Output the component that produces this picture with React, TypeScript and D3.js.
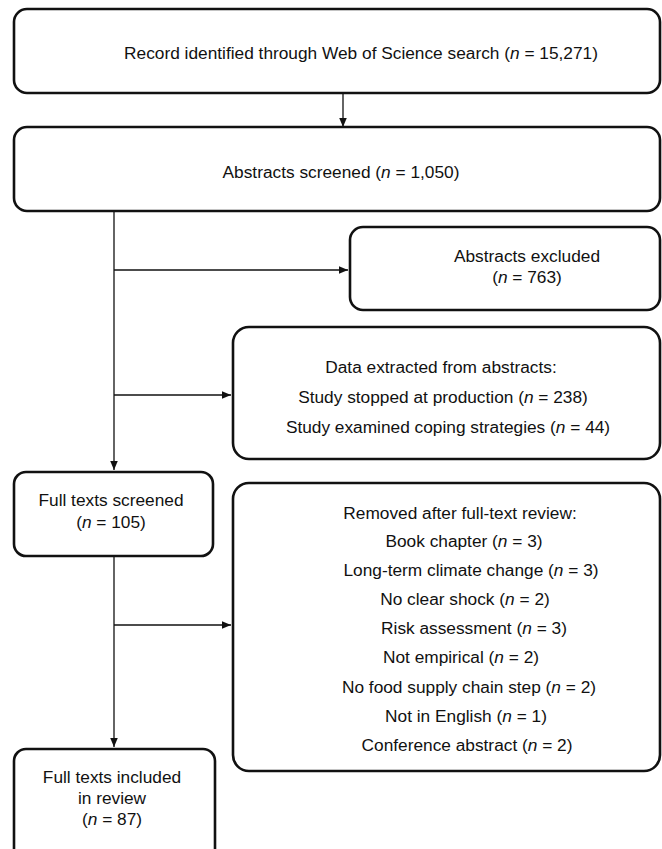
import { useEffect, useRef } from 'react'
import * as d3 from 'd3'

// flow stages (main column)
const stageLabels = [
  'Record identified through Web of Science search',
  'Abstracts screened',
  'Full texts screened',
  'Full texts included in review',
]
const stageCounts = [15271, 1050, 105, 87]

const excludedLabel = 'Abstracts excluded'
const excludedCount = 763

const extractedTitle = 'Data extracted from abstracts:'
const extractedLabels = ['Study stopped at production', 'Study examined coping strategies']
const extractedCounts = [238, 44]

const removedTitle = 'Removed after full-text review:'
const removedReasons = [
  'Book chapter',
  'Long-term climate change',
  'No clear shock',
  'Risk assessment',
  'Not empirical',
  'No food supply chain step',
  'Not in English',
  'Conference abstract',
]
const removedCounts = [3, 3, 2, 3, 2, 2, 1, 2]

type Seg = { t: string; i?: boolean }
type Line = Seg[]

const fmt = d3.format(',')
const withN = (label: string, n: number): Line => [
  { t: label ? `${label} (` : '(' },
  { t: 'n', i: true },
  { t: ` = ${fmt(n)})` },
]

export default function App() {
  const svgRef = useRef<SVGSVGElement>(null)
  const width = 662
  const height = 849

  useEffect(() => {
    if (!svgRef.current) return
    const svg = d3.select(svgRef.current)
    svg.selectAll('*').remove()

    const defs = svg.append('defs')
    defs.append('marker')
      .attr('id', 'arrow')
      .attr('viewBox', '0 0 10 10')
      .attr('refX', 10)
      .attr('refY', 5)
      .attr('markerUnits', 'userSpaceOnUse')
      .attr('markerWidth', 9)
      .attr('markerHeight', 9)
      .attr('orient', 'auto')
      .append('path')
      .attr('d', 'M0,0.8 L10,5 L0,9.2 Z')
      .attr('fill', '#111')

    const right = 660

    // boxes: layout kept separate from the data above
    const boxes = [
      {
        x: 14, y: 9, w: right - 14, h: 84, r: 13,
        cx: 361, ys: [53],
        lines: [withN(stageLabels[0], stageCounts[0])],
      },
      {
        x: 14, y: 127, w: right - 14, h: 84, r: 13,
        cx: 341, ys: [172],
        lines: [withN(stageLabels[1], stageCounts[1])],
      },
      {
        x: 350, y: 227, w: right - 350, h: 83, r: 13,
        cx: 527, ys: [255.5, 276.5],
        lines: [[{ t: excludedLabel }], withN('', excludedCount)],
      },
      {
        x: 233, y: 327, w: right - 233, h: 132, r: 16,
        cx: 444, ys: [367, 397, 427],
        lines: [[{ t: extractedTitle }], ...extractedLabels.map((l, i) => withN(l, extractedCounts[i]))],
      },
      {
        x: 14, y: 472, w: 199, h: 84, r: 12,
        cx: 111, ys: [500, 522],
        lines: [[{ t: 'Full texts screened' }], withN('', stageCounts[2])],
      },
      {
        x: 233, y: 483, w: right - 233, h: 288, r: 16,
        cx: 466, ys: [513, 541, 570, 599, 628, 657, 687, 716, 745],
        lines: [[{ t: removedTitle }], ...removedReasons.map((l, i) => withN(l, removedCounts[i]))],
      },
      {
        x: 14, y: 749, w: 201, h: 112, r: 12,
        cx: 112, ys: [777, 797.5, 818.5],
        lines: [[{ t: 'Full texts included' }], [{ t: 'in review' }], withN('', stageCounts[3])],
      },
    ]
    // small per-line x nudges seen in the source
    const lineX: Record<number, number[]> = {
      3: [441, 443, 448],
      5: [460, 464, 471, 465, 474, 461, 469, 466, 467],
    }

    // connectors
    const mainX = 114
    const conn = svg.append('g')
      .attr('stroke', '#111')
      .attr('stroke-width', 1.3)
      .attr('fill', 'none')

    const arrows: [number, number, number, number][] = [
      [343, 93, 343, 127],
      [mainX, 270, 348, 270],
      [mainX, 395, 231, 395],
      [mainX, 211, mainX, 470],
      [mainX, 625, 231, 625],
      [mainX, 556, mainX, 747],
    ]
    conn.selectAll('line')
      .data(arrows)
      .enter().append('line')
      .attr('x1', d => d[0])
      .attr('y1', d => d[1])
      .attr('x2', d => d[2])
      .attr('y2', d => d[3])
      .attr('marker-end', 'url(#arrow)')

    const g = svg.append('g')
    g.selectAll('rect')
      .data(boxes)
      .enter().append('rect')
      .attr('x', d => d.x)
      .attr('y', d => d.y)
      .attr('width', d => d.w)
      .attr('height', d => d.h)
      .attr('rx', d => d.r)
      .attr('fill', '#fff')
      .attr('stroke', '#111')
      .attr('stroke-width', 2.6)

    boxes.forEach((b, bi) => {
      b.lines.forEach((line, li) => {
        const tx = lineX[bi] ? lineX[bi][li] : b.cx
        const text = svg.append('text')
          .attr('x', tx)
          .attr('y', b.ys[li])
          .attr('dy', '0.35em')
          .attr('text-anchor', 'middle')
          .attr('font-family', '"Liberation Sans", Arial, Helvetica, sans-serif')
          .attr('font-size', 17.3)
          .attr('fill', '#111')
        line.forEach(s => {
          text.append('tspan')
            .attr('font-style', s.i ? 'italic' : 'normal')
            .text(s.t)
        })
      })
    })
  }, [])

  return (
    <svg
      ref={svgRef}
      width={width}
      height={height}
      style={{ position: 'absolute', left: 0, top: 0, background: '#fff' }}
    />
  )
}
